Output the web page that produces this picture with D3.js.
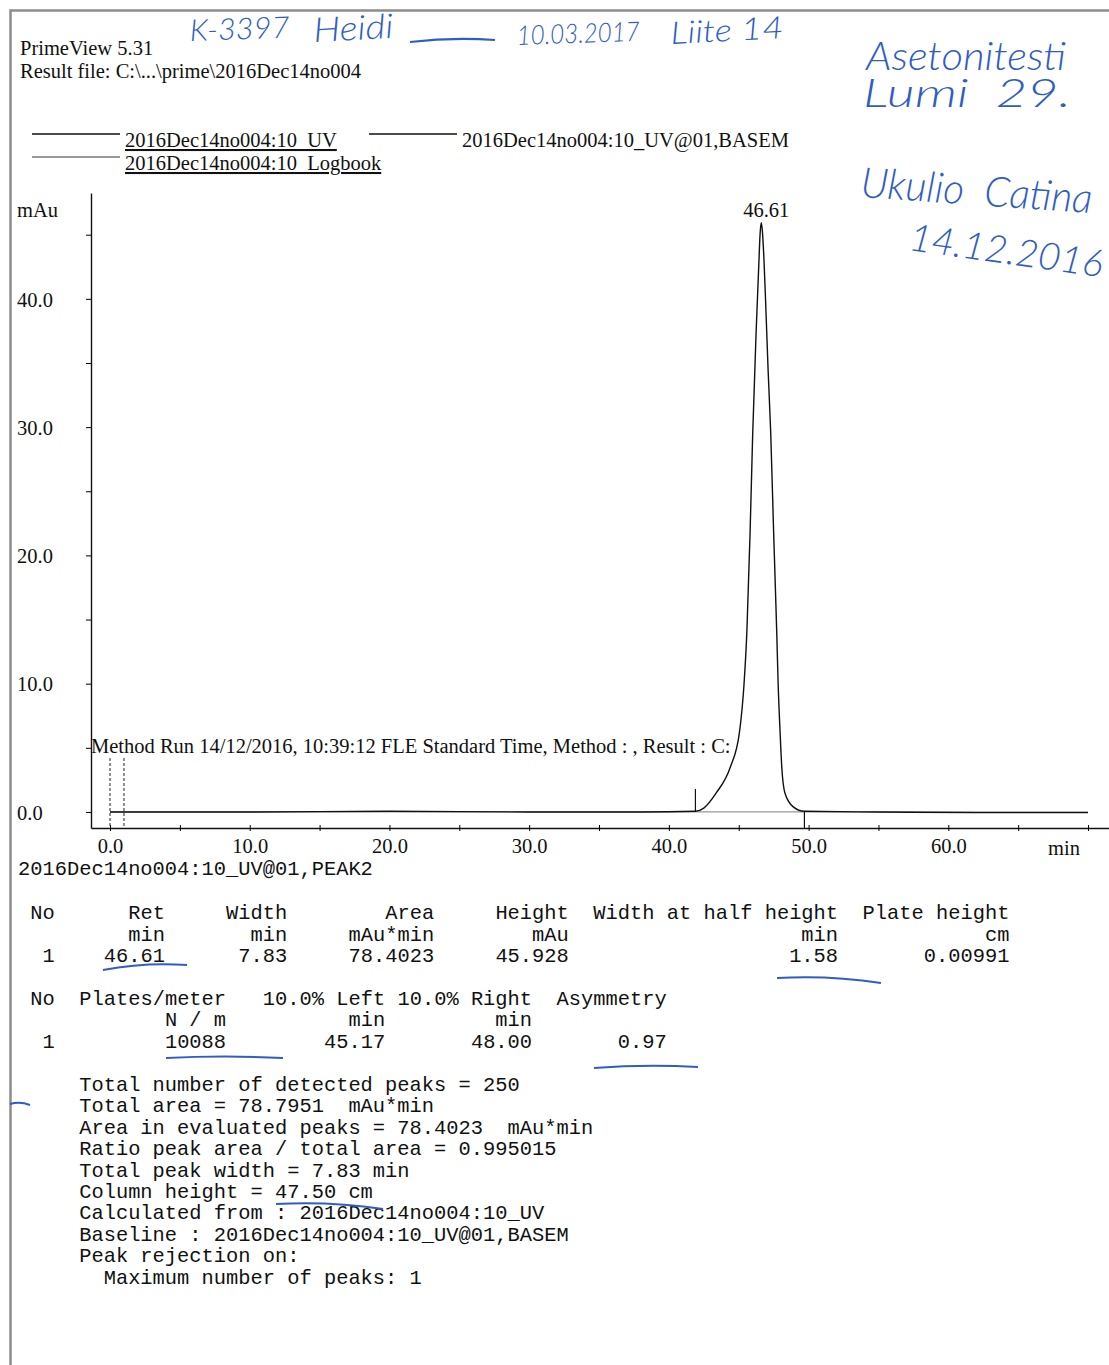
<!DOCTYPE html>
<html>
<head>
  <meta charset="UTF-8">
  <title>PrimeView 5.31 | 2016Dec14no004</title>
  <script src="https://d3js.org/d3.v7.min.js"></script>
  <style>
    body { margin: 0; background: #fff; }
    text { font-family: "Liberation Serif", serif; fill: #111; }
    .mono { font-family: "Liberation Mono", monospace; font-size: 20.4px; white-space: pre; }
    .pen { font-family: "Lato", "DejaVu Sans", sans-serif; font-style: italic; font-weight: 300; fill: #2f5dc4; white-space: pre; }
  </style>
</head>
<body>
<svg></svg>
<script>
// ---- data ----
const traceTime  = [0, 10, 20, 30, 38, 41.9, 42.5, 43.4, 44.4, 45.05, 45.38, 45.58, 45.81, 46.0, 46.24, 46.43, 46.53, 46.61,
                    46.69, 46.8, 46.95, 47.1, 47.29, 47.5, 47.72, 47.82, 47.96, 48.08, 48.3, 48.9, 49.7, 55, 62, 70];
const traceValue = [0, 0, 0.05, 0, 0, 0.05, 0.3, 1.5, 3.5, 6.2, 10.0, 14.0, 21.7, 29.5, 37.3, 42.5, 45.1, 45.93,
                    45.3, 43.2, 39.0, 34.5, 29.5, 21.7, 14.0, 10.0, 6.2, 3.5, 1.5, 0.4, 0.05, 0, -0.05, -0.05];
const baseTime  = [0, 70];
const baseValue = [0, 0];
const logbookTime = [0.0, 1.0];
const logbookText = "Method Run 14/12/2016, 10:39:12 FLE Standard Time, Method : , Result : C:";
const peakLabel = "46.61";
const peakRet = 46.61, peakHeight = 45.928, peakStart = 41.9, peakEnd = 49.7;

const yTicks = [0, 5, 10, 15, 20, 25, 30, 35, 40, 45];
const xTicks = [0, 5, 10, 15, 20, 25, 30, 35, 40, 45, 50, 55, 60, 65, 70];

const legendNames = ["2016Dec14no004:10_UV", "2016Dec14no004:10_UV@01,BASEM", "2016Dec14no004:10_Logbook"];

const table1Head  = ["No", "Ret", "Width", "Area", "Height", "Width at half height", "Plate height"];
const table1Unit  = ["", "min", "min", "mAu*min", "mAu", "min", "cm"];
const table1Value = ["1", "46.61", "7.83", "78.4023", "45.928", "1.58", "0.00991"];
const table2Head  = ["No", "Plates/meter", "10.0% Left", "10.0% Right", "Asymmetry"];
const table2Unit  = ["", "N / m", "min", "min", ""];
const table2Value = ["1", "10088", "45.17", "48.00", "0.97"];
const summaryLines = [
  "Total number of detected peaks = 250",
  "Total area = 78.7951  mAu*min",
  "Area in evaluated peaks = 78.4023  mAu*min",
  "Ratio peak area / total area = 0.995015",
  "Total peak width = 7.83 min",
  "Column height = 47.50 cm",
  "Calculated from : 2016Dec14no004:10_UV",
  "Baseline : 2016Dec14no004:10_UV@01,BASEM",
  "Peak rejection on:",
  "  Maximum number of peaks: 1"
];

// ---- page ----
const width = 1109, height = 1365;
const svg = d3.select("svg").attr("width", width).attr("height", height);
const fs = "20.5px";

svg.append("path")
  .attr("d", "M10.5,1365 V10.5 H1109")
  .attr("fill", "none").attr("stroke", "#8c8c8c").attr("stroke-width", 2.5);

svg.append("text").attr("x", 20).attr("y", 55).style("font-size", fs).text("PrimeView 5.31");
svg.append("text").attr("x", 20).attr("y", 78).style("font-size", fs).text("Result file: C:\\...\\prime\\2016Dec14no004");

// legend
let leg = svg.append("g").style("font-size", fs);
[[32, 134, 0, true, "#111"], [369, 134, 1, false, "#111"], [32, 157, 2, true, "#777"]].forEach(([lx, ly, i, under, c]) => {
  leg.append("line").attr("x1", lx).attr("x2", lx + 88).attr("y1", ly).attr("y2", ly)
    .attr("stroke", c).attr("stroke-width", 1.3);
  leg.append("text").attr("x", lx + 93).attr("y", ly + 13)
    .style("text-decoration", under ? "underline" : "none").text(legendNames[i]);
});

// ---- scales & axes ----
let x = d3.scaleLinear().domain([-1.36, 71.5]).range([91, 1109]);
let y = d3.scaleLinear().domain([-1.25, 48.25]).range([828, 193]);

let yAxis = svg.append("g").attr("transform", "translate(91,0)")
  .call(d3.axisLeft(y).tickValues(yTicks).tickSize(5).tickSizeOuter(0)
    .tickFormat(d => d % 10 === 0 ? d.toFixed(1) : ""));
yAxis.select(".domain").attr("stroke", "#111").attr("stroke-width", 1.4);
yAxis.selectAll("text").attr("x", 17 - 91).attr("dy", "0.35em")
  .attr("text-anchor", "start").style("font-family", "Liberation Serif").style("font-size", fs).attr("fill", "#111");
svg.append("text").attr("x", 17).attr("y", 217).style("font-size", fs).text("mAu");

let xAxis = svg.append("g").attr("transform", "translate(0,828)")
  .call(d3.axisBottom(x).tickValues(xTicks).tickSize(3).tickSizeOuter(0)
    .tickFormat(d => d % 10 === 0 && d <= 60 ? d.toFixed(1) : ""));
xAxis.select(".domain").attr("stroke", "#111").attr("stroke-width", 1.4);
xAxis.selectAll(".tick line").attr("y1", -3).attr("y2", 3);
xAxis.selectAll("text").attr("y", 25).attr("dy", 0)
  .style("font-family", "Liberation Serif").style("font-size", fs).attr("fill", "#111");
svg.append("text").attr("x", 1064).attr("y", 855).attr("text-anchor", "middle").style("font-size", fs).text("min");

// ---- traces ----
let line = d3.line().x(d => x(d[0])).y(d => y(d[1])).curve(d3.curveMonotoneX);

svg.append("path").datum(d3.zip(baseTime, baseValue))
  .attr("d", line).attr("fill", "none").attr("stroke", "#999").attr("stroke-width", 1.2);
svg.append("path").datum(d3.zip(traceTime, traceValue))
  .attr("d", line).attr("fill", "none").attr("stroke", "#111").attr("stroke-width", 1.4);

// logbook marks
svg.append("g").selectAll("line").data(logbookTime).join("line")
  .attr("x1", d => x(d)).attr("x2", d => x(d)).attr("y1", 758).attr("y2", 828)
  .attr("stroke", "#222").attr("stroke-width", 1).attr("stroke-dasharray", "3,2");
svg.append("text").attr("x", 91).attr("y", 753).style("font-size", fs).text(logbookText);

// peak start / end markers and label
svg.append("line").attr("x1", x(peakStart)).attr("x2", x(peakStart))
  .attr("y1", y(0) - 23).attr("y2", y(0)).attr("stroke", "#111").attr("stroke-width", 1.2);
svg.append("line").attr("x1", x(peakEnd)).attr("x2", x(peakEnd))
  .attr("y1", y(0)).attr("y2", 828).attr("stroke", "#111").attr("stroke-width", 1.2);
svg.append("text").attr("x", x(peakRet) + 5).attr("y", y(peakHeight) - 6)
  .attr("text-anchor", "middle").style("font-size", fs).text(peakLabel);

// ---- results text ----
const cw = 12.24, x0 = 18;
const col = c => x0 + c * cw;
svg.append("text").attr("class", "mono").attr("x", col(0)).attr("y", 875).text("2016Dec14no004:10_UV@01,PEAK2");

function tableRow(tokens, ends, yy) {
  tokens.forEach((t, i) => {
    if (!t) return;
    svg.append("text").attr("class", "mono").attr("x", col(ends[i])).attr("y", yy)
      .attr("text-anchor", "end").text(t);
  });
}
const ends1 = [3, 12, 22, 34, 45, 67, 81];
tableRow(table1Head, ends1, 919);
tableRow(table1Unit, ends1, 941);
tableRow(table1Value, ends1, 962);
const ends2 = [3, 17, 30, 42, 53];
tableRow(table2Head, ends2, 1005);
tableRow(table2Unit, ends2, 1026);
tableRow(table2Value, ends2, 1048);

svg.append("g").selectAll("text").data(summaryLines).join("text")
  .attr("class", "mono").attr("x", col(5)).attr("y", (d, i) => 1091 + i * 21.4).text(d => d);

// ---- pen annotations ----
const pen = svg.append("g");
[["K-3397", 190, 41, 30, 100, -2], ["Heidi", 314, 42, 34, 80, -3], ["10.03.2017", 517, 45, 27, 123, -2], ["Liite 14", 671, 44, 31, 113, -3],
 ["Asetonitesti", 866, 70, 40, 200, 0], ["Lumi  29.", 863, 107, 40, 208, 0],
 ["Ukulio  Catina", 860, 197, 42, 232, 4], ["14.12.2016", 908, 250, 38, 195, 8]]
  .forEach(([t, px, py, size, len, rot]) => {
    pen.append("text").attr("class", "pen").attr("x", px).attr("y", py)
      .attr("transform", `rotate(${rot},${px},${py})`).style("font-size", size + "px")
      .attr("textLength", len).attr("lengthAdjust", "spacingAndGlyphs").text(t);
  });
const underline = (xa, xb, ya, yb) => pen.append("path")
  .attr("d", `M${xa},${ya} Q${(xa + xb) / 2},${Math.min(ya, yb) - 3} ${xb},${yb}`)
  .attr("fill", "none").attr("stroke", "#2f5dc4").attr("stroke-width", 2);
underline(410, 495, 42, 40);
underline(103, 187, 970, 965);
underline(777, 881, 978, 983);
underline(166, 283, 1058, 1058);
underline(594, 698, 1068, 1067);
underline(276, 383, 1204, 1209);
underline(10, 30, 1104, 1105);
</script>
</body>
</html>
